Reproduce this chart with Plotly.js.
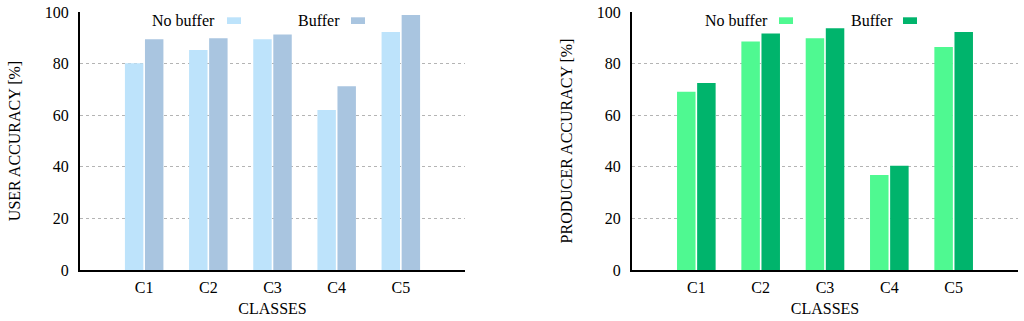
<!DOCTYPE html>
<html>
<head>
<meta charset="utf-8">
<script src="https://cdn.plot.ly/plotly-3.0.1.min.js"></script>
<style>html,body{margin:0;padding:0;background:#fff;}#chart{width:1024px;height:321px;}</style>
</head>
<body>
<div id="chart"></div>
<script>
const categories = ['C1', 'C2', 'C3', 'C4', 'C5'];
const seriesNames = ['No buffer', 'Buffer'];
const userNoBuffer = [80.1, 85.3, 89.4, 62.0, 92.2];
const userBuffer = [89.4, 89.8, 91.3, 71.2, 98.8];
const prodNoBuffer = [69.1, 88.6, 89.8, 36.8, 86.4];
const prodBuffer = [72.5, 91.7, 93.7, 40.4, 92.2];
const yTicks = [0, 20, 40, 60, 80, 100];

const W = 1024, H = 321;
const font = 'Liberation Serif, Times New Roman, serif';
const colors = {
  userNo: '#bde3fb', userBuf: '#a9c5e0',
  prodNo: '#4ff991', prodBuf: '#00b46c'
};

function bar(y, name, color, xa, ya) {
  return {type: 'bar', x: categories, y: y, name: name, xaxis: xa, yaxis: ya,
    marker: {color: color, line: {width: 0}}, showlegend: false, hoverinfo: 'x+y'};
}

const data = [
  bar(userNoBuffer, seriesNames[0], colors.userNo, 'x', 'y'),
  bar(userBuffer, seriesNames[1], colors.userBuf, 'x', 'y'),
  bar(prodNoBuffer, seriesNames[0], colors.prodNo, 'x2', 'y2'),
  bar(prodBuffer, seriesNames[1], colors.prodBuf, 'x2', 'y2')
];

const px = v => v / W;
const py = v => 1 - v / H;

function xAxis(l, r, anchor) {
  return {
    domain: [px(l), px(r)], anchor: anchor, type: 'category', range: [-1, 5],
    showline: true, linecolor: '#000', linewidth: 2, showgrid: false, zeroline: false,
    ticks: 'outside', ticklen: 2, tickcolor: 'rgba(0,0,0,0)',
    tickfont: {family: font, size: 16, color: '#000'},
    title: {text: 'CLASSES', font: {family: font, size: 16, color: '#000'}, standoff: 8},
    automargin: false, fixedrange: true
  };
}
function yAxis(anchor, title) {
  return {
    domain: [py(270), py(12)], anchor: anchor, range: [0, 100],
    tickvals: yTicks, ticktext: yTicks.map(String),
    showline: true, linecolor: '#000', linewidth: 2,
    showgrid: true, gridcolor: '#b4b4b4', gridwidth: 1, griddash: 'dot', zeroline: false,
    ticks: 'outside', ticklen: 6, tickcolor: 'rgba(0,0,0,0)',
    tickfont: {family: font, size: 16, color: '#000'},
    title: {text: title, font: {family: font, size: 16, color: '#000'}, standoff: 20},
    automargin: false, fixedrange: true
  };
}

const legendItems = [
  {text: seriesNames[0], textRight: 217, sw: 227, color: colors.userNo},
  {text: seriesNames[1], textRight: 342, sw: 351, color: colors.userBuf},
  {text: seriesNames[0], textRight: 770, sw: 779, color: colors.prodNo},
  {text: seriesNames[1], textRight: 895, sw: 903, color: colors.prodBuf}
];
const annotations = legendItems.map(it => ({
  xref: 'paper', yref: 'paper', x: px(it.textRight), y: py(20.5),
  xanchor: 'right', yanchor: 'middle', showarrow: false, text: it.text,
  font: {family: font, size: 16, color: '#000'}
}));
const shapes = legendItems.map(it => ({
  type: 'rect', xref: 'paper', yref: 'paper',
  x0: px(it.sw), x1: px(it.sw + 14), y0: py(24), y1: py(17.3),
  fillcolor: it.color, line: {width: 0}
}));

const layout = {
  width: W, height: H,
  margin: {l: 0, r: 0, t: 0, b: 0},
  paper_bgcolor: '#fff', plot_bgcolor: '#fff',
  barmode: 'group', bargap: 0.375, bargroupgap: 0.08,
  xaxis: xAxis(80, 465, 'y'),
  yaxis: yAxis('x', 'USER ACCURACY [%]'),
  xaxis2: xAxis(632, 1018, 'y2'),
  yaxis2: yAxis('x2', 'PRODUCER ACCURACY [%]'),
  annotations: annotations, shapes: shapes,
  showlegend: false,
  font: {family: font, color: '#000'}
};

Plotly.newPlot('chart', data, layout, {displayModeBar: false, staticPlot: true});
</script>
</body>
</html>
